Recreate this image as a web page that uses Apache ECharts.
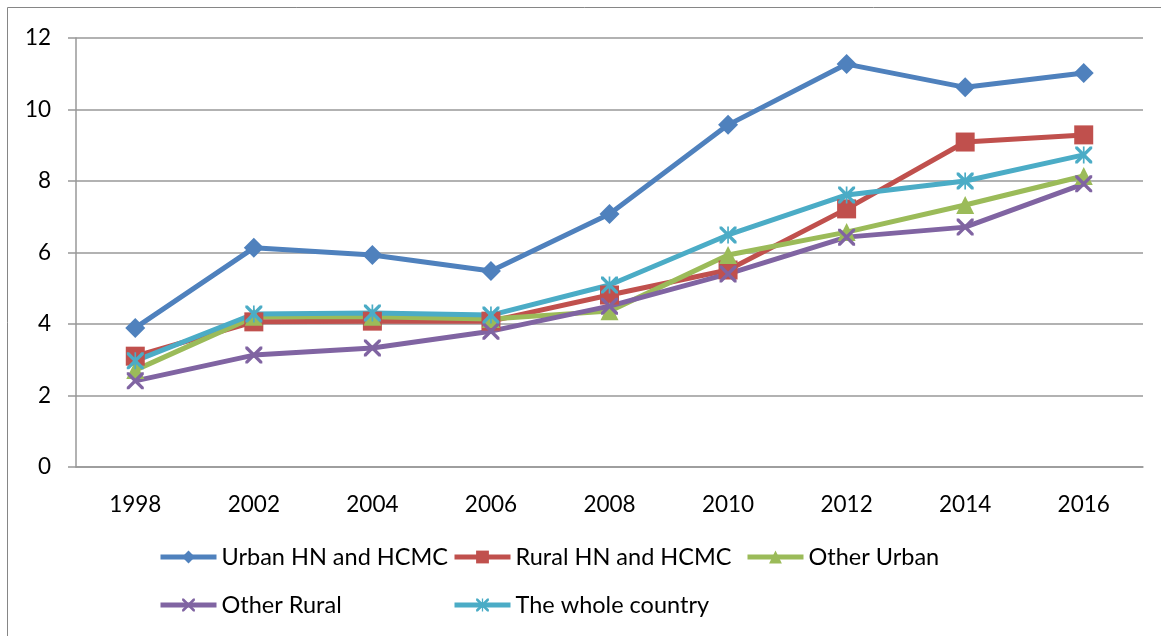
<!DOCTYPE html>
<html>
<head>
<meta charset="utf-8">
<title>Chart</title>
<script src="https://cdn.jsdelivr.net/npm/echarts@6/dist/echarts.min.js"></script>
<style>
  html, body { margin: 0; padding: 0; background: #fff; }
  #chart { width: 1161px; height: 636px; }
</style>
</head>
<body>
<div id="chart"></div>
<script>
const years = ['1998', '2002', '2004', '2006', '2008', '2010', '2012', '2014', '2016']
const urbanHN = [3.89, 6.13, 5.93, 5.48, 7.08, 9.57, 11.27, 10.62, 11.02]
const ruralHN = [3.1, 4.06, 4.08, 4.08, 4.81, 5.51, 7.22, 9.09, 9.29]
const otherUrban = [2.71, 4.2, 4.2, 4.14, 4.36, 5.93, 6.57, 7.33, 8.14]
const otherRural = [2.41, 3.13, 3.33, 3.8, 4.5, 5.4, 6.43, 6.71, 7.92]
const wholeCountry = [2.97, 4.28, 4.31, 4.25, 5.09, 6.49, 7.61, 8.0, 8.73]

const FONT = 'Lato'
const crossPath = 'path://M0,0 L1.4,0 L10,8.6 L10,10 L8.6,10 L0,1.4 Z M8.6,0 L10,0 L10,1.4 L1.4,10 L0,10 L0,8.6 Z'
const starPath = 'path://M0,0 L1.4,0 L10,8.6 L10,10 L8.6,10 L0,1.4 Z M8.6,0 L10,0 L10,1.4 L1.4,10 L0,10 L0,8.6 Z M4.5,0 L5.5,0 L5.5,10 L4.5,10 Z'

const seriesDefs = [
  { name: 'Urban HN and HCMC', data: urbanHN, color: '#4F81BD', symbol: 'diamond', size: 20 },
  { name: 'Rural HN and HCMC', data: ruralHN, color: '#C0504D', symbol: 'rect', size: 19 },
  { name: 'Other Urban', data: otherUrban, color: '#9BBB59', symbol: 'triangle', size: 18 },
  { name: 'Other Rural', data: otherRural, color: '#8064A2', symbol: crossPath, size: 17 },
  { name: 'The whole country', data: wholeCountry, color: '#4BACC6', symbol: starPath, size: 17 },
]

// excel puts the legend in a 3 column grid
const legendPos = [[153, 540], [447, 540], [740, 540], [153, 588], [447, 588]]

const chart = echarts.init(document.getElementById('chart'))

chart.setOption({
  animation: false,
  textStyle: { fontFamily: FONT },
  graphic: [{
    type: 'rect',
    shape: { x: 7.5, y: 7.5, width: 1160, height: 640 },
    style: { fill: 'none', stroke: '#868686', lineWidth: 1 },
    silent: true,
  }],
  grid: { left: 76, right: 18, top: 38, bottom: 169 },
  legend: seriesDefs.map((s, i) => ({
    data: [s.name],
    left: legendPos[i][0],
    top: legendPos[i][1],
    itemWidth: 56,
    itemHeight: 16,
    itemGap: 0,
    lineStyle: { width: 5 },
    textStyle: { fontFamily: FONT, fontSize: 23.5, color: '#000' },
    selectedMode: false,
  })),
  xAxis: {
    type: 'category',
    data: years,
    boundaryGap: true,
    axisLine: { lineStyle: { color: '#989898', width: 1.5 } },
    axisTick: { length: 8, lineStyle: { color: '#989898', width: 1.5 } },
    axisLabel: { fontFamily: FONT, fontSize: 22.5, color: '#000', margin: 26 },
  },
  yAxis: {
    type: 'value',
    min: 0,
    max: 12,
    interval: 2,
    axisLine: { show: true, lineStyle: { color: '#989898', width: 1.5 } },
    axisTick: { show: true, length: 8, lineStyle: { color: '#989898', width: 1.5 } },
    axisLabel: { fontFamily: FONT, fontSize: 22.5, color: '#000', margin: 25 },
    splitLine: { lineStyle: { color: '#989898', width: 1.5 } },
  },
  series: seriesDefs.map(s => ({
    name: s.name,
    type: 'line',
    data: s.data,
    symbol: s.symbol,
    symbolSize: s.size,
    showAllSymbol: true,
    lineStyle: { color: s.color, width: 5 },
    itemStyle: { color: s.color },
    emphasis: { disabled: true },
  })),
})
</script>
</body>
</html>
